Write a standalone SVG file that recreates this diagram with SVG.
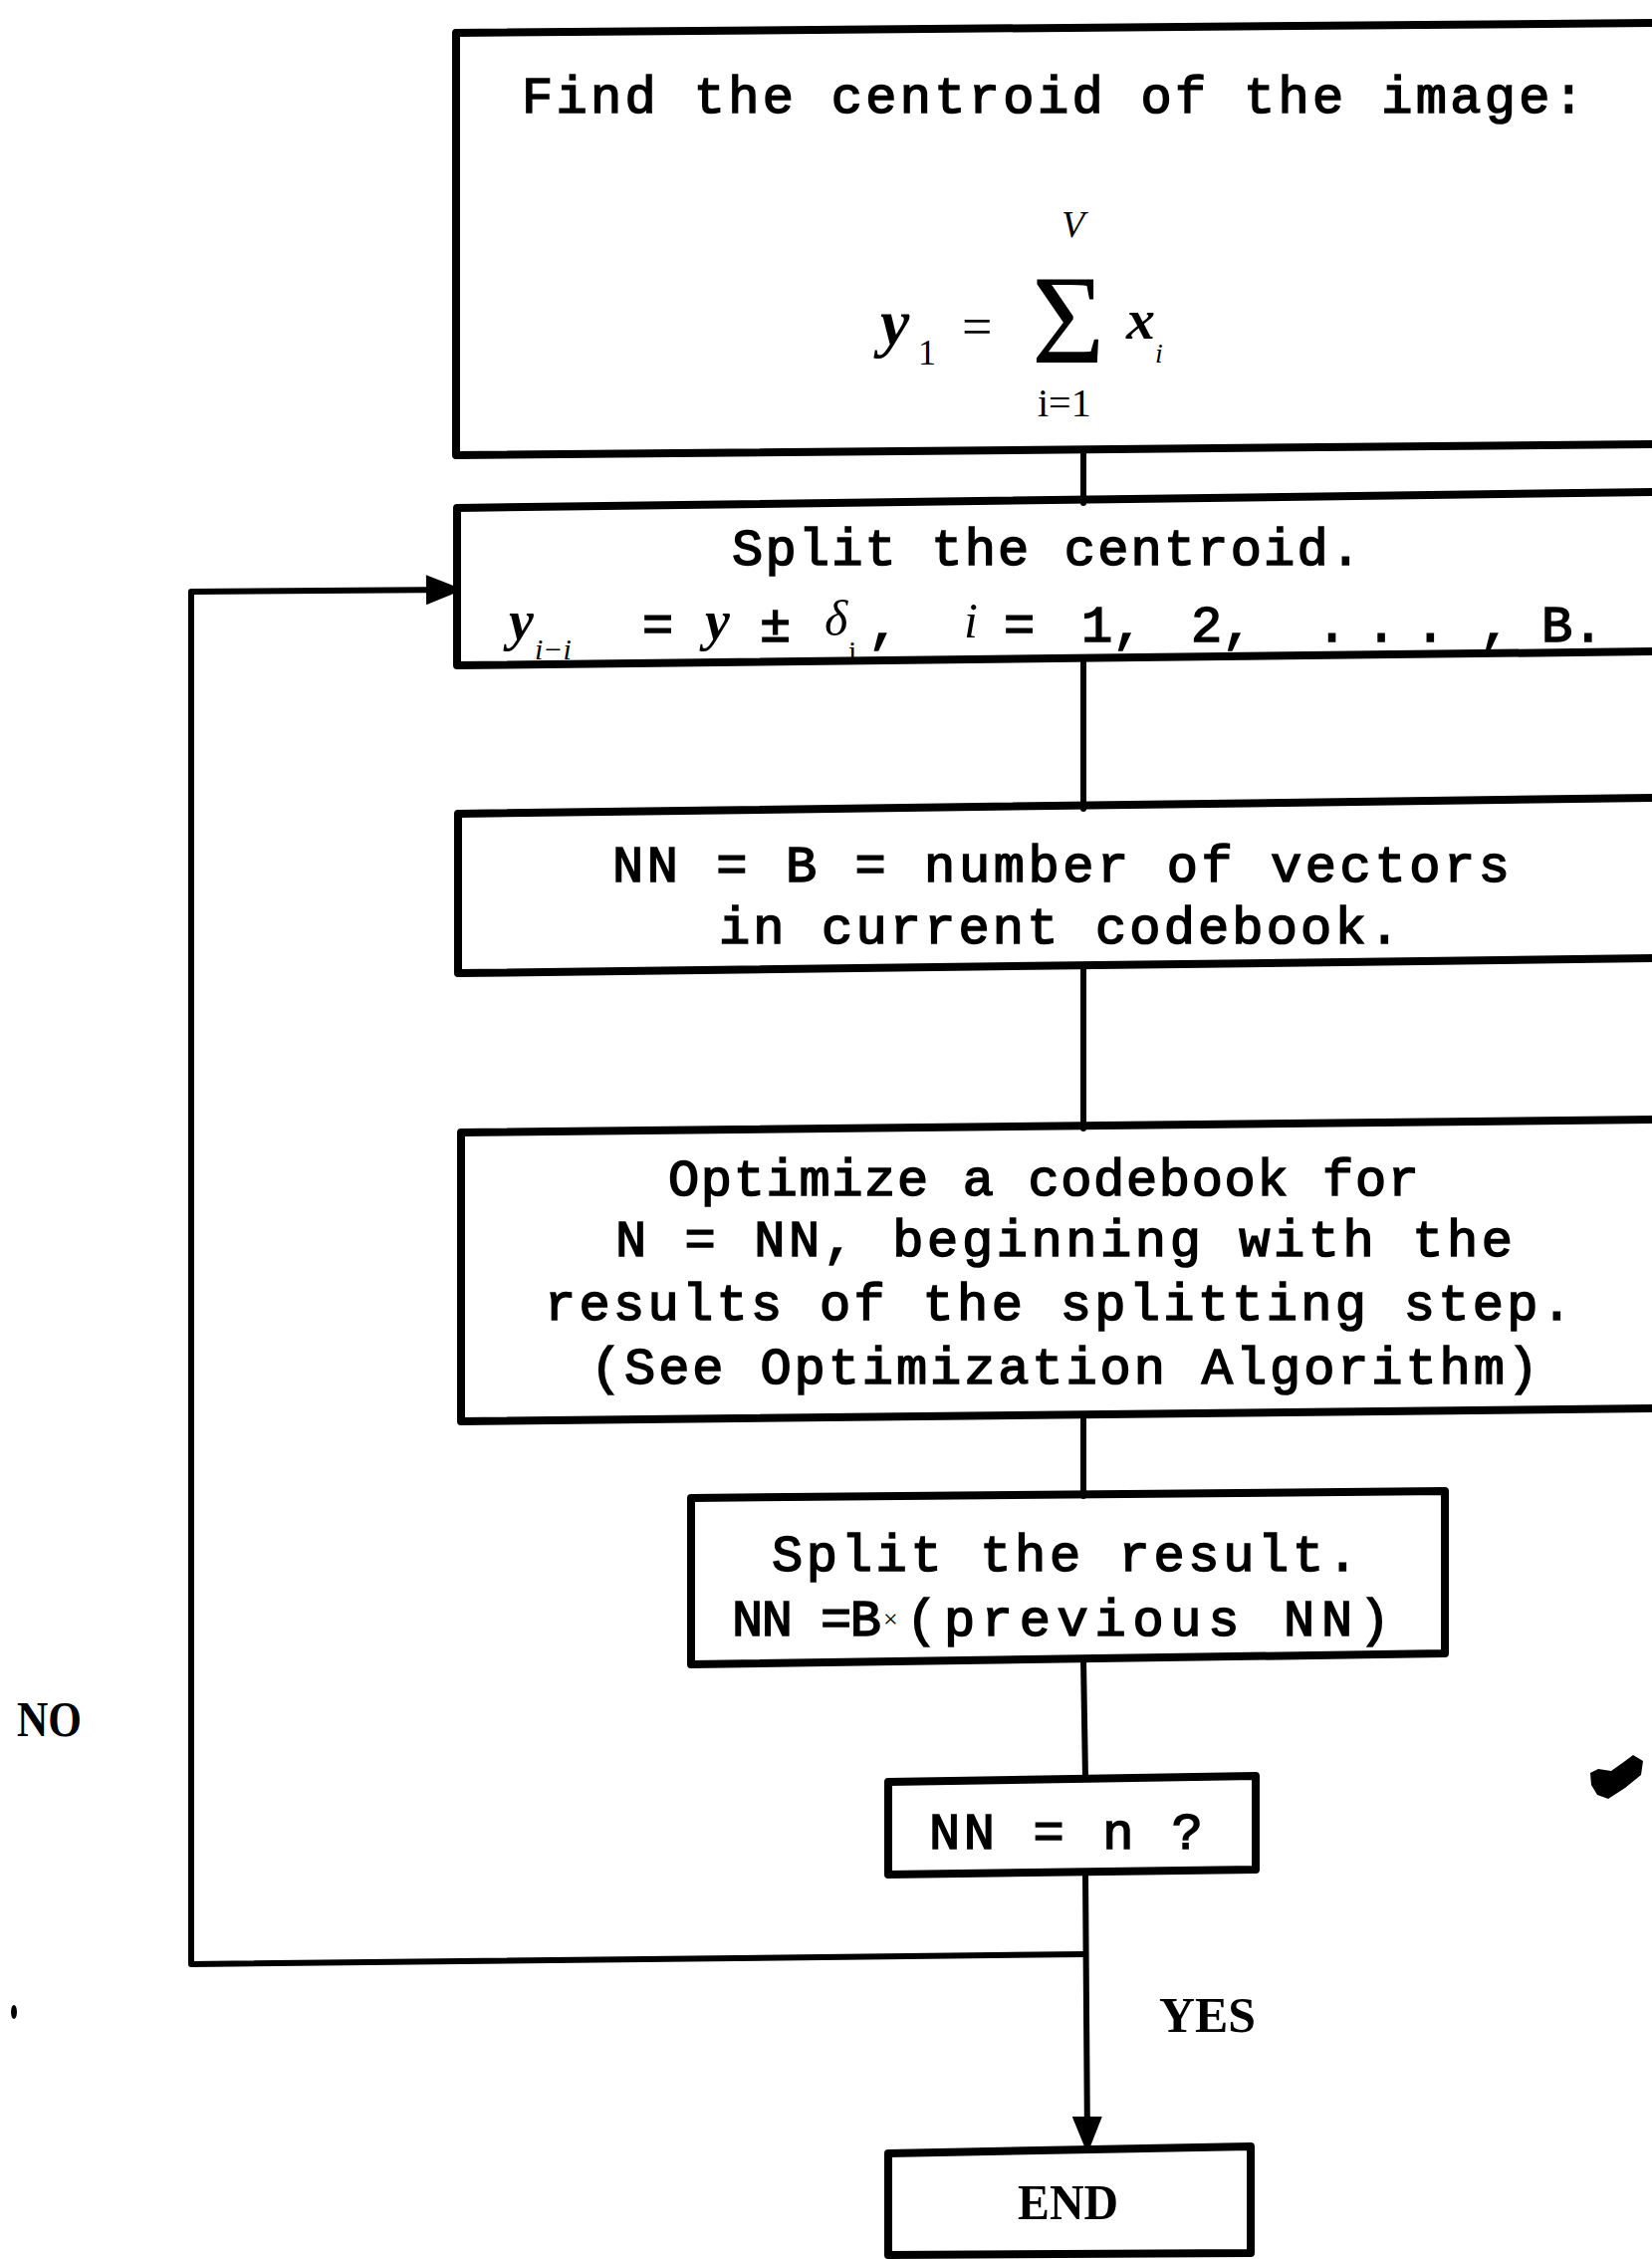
<svg xmlns="http://www.w3.org/2000/svg" width="1659" height="2268" viewBox="0 0 1659 2268">
<style>
.box{fill:none;stroke:#000;stroke-width:8;stroke-linejoin:round}
.con{fill:none;stroke:#000;stroke-width:6;stroke-linecap:round;stroke-linejoin:round}
.t{font-family:"Liberation Mono","DejaVu Sans Mono",monospace;font-size:52px;fill:#000;stroke:#000;stroke-width:1.6px}
.m{font-family:"Liberation Serif","DejaVu Serif",serif;font-style:italic;font-weight:bold;fill:#000}
.s{font-family:"Liberation Serif","DejaVu Serif",serif;fill:#000}
.lbl{font-family:"Liberation Serif","DejaVu Serif",serif;font-weight:bold;font-size:50px;fill:#000}
</style>
<defs>
<marker id="ah" viewBox="0 0 10 10" refX="10" refY="5" markerWidth="9" markerHeight="5" markerUnits="strokeWidth" orient="auto">
<path d="M0,0 L10,4 L10,6 L0,10 Z" fill="#000"/>
</marker>
</defs>
<rect width="1659" height="2268" fill="#fff"/>

<g id="connectors">
<path class="con" d="M1088,452 L1088,505"/>
<path class="con" d="M1088,664 L1088,812"/>
<path class="con" d="M1088,972 L1088,1133"/>
<path class="con" d="M1088,1422 L1088,1502"/>
<path class="con" d="M1088,1666 L1090,1786"/>
<path class="con" d="M1090,1880 L1092,2155" marker-end="url(#ah)"/>
<path class="con" d="M1090,1962 L192,1972 L192,594 L458,592" marker-end="url(#ah)"/>
</g>

<g id="node-centroid">
<path class="box" d="M1665,23 L458,33 L458,457 L1665,446"/>
<text class="t" x="524" y="113" textLength="1067" lengthAdjust="spacing">Find the centroid of the image:</text>
<text class="s" x="1066" y="238" font-size="38" font-style="italic">V</text>
<text class="m" x="884" y="346" font-size="66">y</text>
<text class="s" x="922" y="366" font-size="36">1</text>
<text class="s" x="966" y="346" font-size="54">=</text>
<text class="s" x="1036" y="364" font-size="126">Σ</text>
<text class="m" x="1131" y="340" font-size="58">x</text>
<text class="s" x="1160" y="364" font-size="28" font-style="italic">i</text>
<text class="s" x="1042" y="418" font-size="40">i=1</text>
</g>

<g id="node-split-centroid">
<path class="box" d="M1665,494 L459,510 L459,668 L1665,654"/>
<text class="t" x="735" y="567" textLength="632" lengthAdjust="spacing">Split the centroid.</text>
<text class="m" x="511" y="642" font-size="56">y</text>
<text class="s" x="537" y="662" font-size="30" font-style="italic">i−i</text>
<text class="t" x="645" y="644">=</text>
<text class="m" x="708" y="642" font-size="56">y</text>
<text class="t" x="763" y="644">±</text>
<text class="s" x="828" y="638" font-size="50" font-style="italic">δ</text>
<text class="s" x="852" y="664" font-size="30">i</text>
<text class="t" x="872" y="644">,</text>
<text class="s" x="968" y="640" font-size="50" font-style="italic">i</text>
<text class="t" x="1008" y="644">=</text>
<text class="t" x="1086" y="644">1,</text>
<text class="t" x="1196" y="644">2,</text>
<text class="t" x="1322" y="644" textLength="130" lengthAdjust="spacing">. . .</text>
<text class="t" x="1486" y="644">,</text>
<text class="t" x="1548" y="644">B.</text>
</g>

<g id="node-nn-b">
<path class="box" d="M1665,801 L460,817 L460,977 L1665,962"/>
<text class="t" x="615" y="885" textLength="901" lengthAdjust="spacing">NN = B = number of vectors</text>
<text class="t" x="722" y="947" textLength="684" lengthAdjust="spacing">in current codebook.</text>
</g>

<g id="node-optimize">
<path class="box" d="M1665,1124 L463,1137 L463,1427 L1665,1414"/>
<text class="t" x="671" y="1200" textLength="754" lengthAdjust="spacing">Optimize a codebook for</text>
<text class="t" x="618" y="1261" textLength="901" lengthAdjust="spacing">N = NN, beginning with the</text>
<text class="t" x="547" y="1325" textLength="1032" lengthAdjust="spacing">results of the splitting step.</text>
<text class="t" x="593" y="1389" textLength="952" lengthAdjust="spacing">(See Optimization Algorithm)</text>
</g>

<g id="node-split-result">
<path class="box" d="M694,1504 L1451,1497 L1451,1660 L694,1671 Z"/>
<text class="t" x="775" y="1577" textLength="589" lengthAdjust="spacing">Split the result.</text>
<text class="t" x="735" y="1642" textLength="150" lengthAdjust="spacing">NN =B</text>
<text class="s" x="887" y="1634" font-size="26" fill="#888">×</text>
<text class="t" x="910" y="1642" textLength="486" lengthAdjust="spacing">(previous NN)</text>
</g>

<g id="node-nn-n">
<path class="box" d="M892,1789 L1261,1783 L1261,1877 L892,1882 Z"/>
<text class="t" x="933" y="1856" textLength="275" lengthAdjust="spacing">NN = n ?</text>
</g>

<g id="node-end">
<path class="box" d="M892,2162 L1256,2155 L1256,2262 L892,2264 Z"/>
<text class="lbl" x="1022" y="2228" textLength="101" lengthAdjust="spacingAndGlyphs">END</text>
</g>

<g id="labels">
<text class="lbl" x="17" y="1743" textLength="65" lengthAdjust="spacingAndGlyphs">NO</text>
<text class="lbl" x="1164" y="2040" textLength="97" lengthAdjust="spacingAndGlyphs">YES</text>
</g>

<g id="marks">
<path d="M1597,1780 L1605,1776 L1618,1778 L1632,1768 L1640,1762 L1650,1768 L1648,1782 L1632,1795 L1615,1806 L1604,1802 L1598,1792 Z" fill="#000"/>
<ellipse cx="14" cy="2020" rx="3" ry="7" fill="#000"/>
</g>
</svg>
